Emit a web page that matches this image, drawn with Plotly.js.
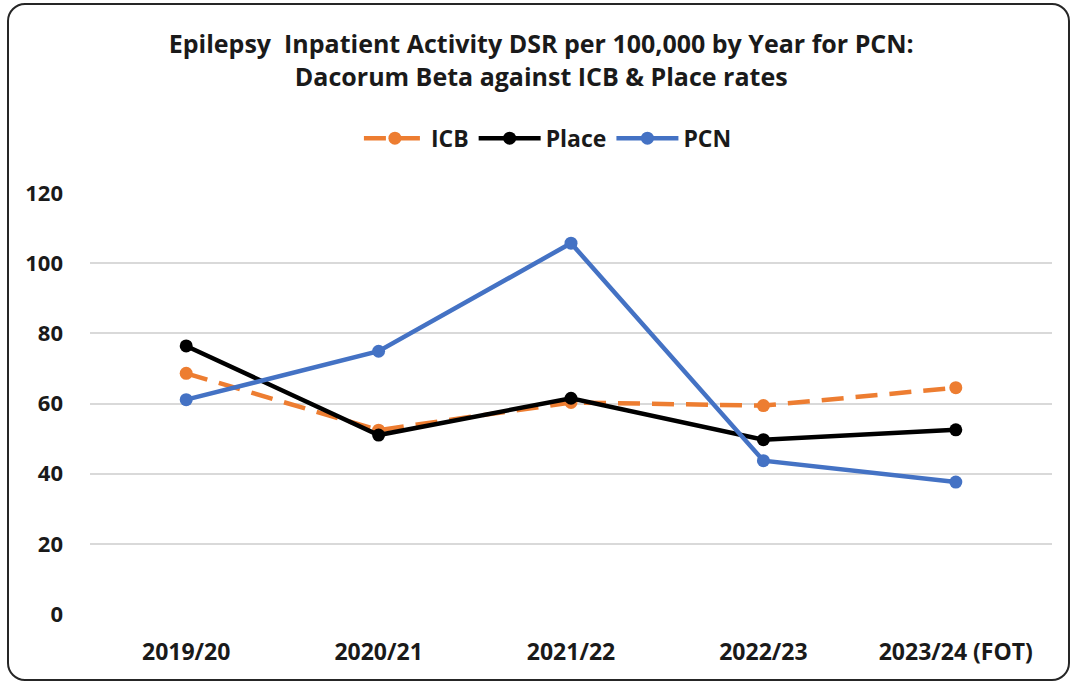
<!DOCTYPE html>
<html><head><meta charset="utf-8">
<script src="https://cdn.plot.ly/plotly-3.0.1.min.js"></script>
<style>
html,body{margin:0;padding:0;background:#fff;}
#wrap{position:relative;width:1076px;height:684px;}
#chart{width:1076px;height:684px;}
#frame{position:absolute;left:7px;top:3px;width:1059px;height:674px;border:2px solid #262626;border-radius:18px;pointer-events:none;}
</style></head>
<body>
<div id="wrap"><div id="chart"></div><div id="frame"></div></div>
<script>
const years = ["2019/20", "2020/21", "2021/22", "2022/23", "2023/24 (FOT)"];
const icb = [68.6, 52.4, 60.3, 59.4, 64.5];
const place = [76.4, 51.0, 61.5, 49.7, 52.5];
const pcn = [61.1, 74.9, 105.7, 43.7, 37.6];
const yTicks = [0, 20, 40, 60, 80, 100, 120];

const F = "'Open Sans', Lato, sans-serif";
const traces = [
  {x: years, y: icb, name: "ICB", type: "scatter", mode: "lines+markers",
   line: {color: "#ED7D31", width: 4.5, dash: "22px,12px"}, marker: {color: "#ED7D31", size: 13}},
  {x: years, y: place, name: "Place", type: "scatter", mode: "lines+markers",
   line: {color: "#000000", width: 4.5}, marker: {color: "#000000", size: 13}},
  {x: years, y: pcn, name: "PCN", type: "scatter", mode: "lines+markers",
   line: {color: "#4472C4", width: 4.5}, marker: {color: "#4472C4", size: 13}}
];
const layout = {
  width: 1076, height: 684,
  margin: {l: 90, r: 24, t: 193, b: 70},
  paper_bgcolor: "#fff", plot_bgcolor: "#fff",
  font: {family: F, color: "#262626"},
  title: {text: "<b>Epilepsy  Inpatient Activity DSR per 100,000 by Year for PCN:<br>Dacorum Beta against ICB & Place rates</b>",
    font: {family: F, size: 25, color: "#1a1a1a"}, x: 0.503, xanchor: "center", y: 0.922, yanchor: "middle"},
  showlegend: true,
  legend: {orientation: "h", x: 0.476, xanchor: "center", y: 1.13, yanchor: "middle",
    font: {family: F, size: 23, color: "#1a1a1a", weight: "bold"}, itemwidth: 62},
  xaxis: {type: "category", range: [-0.5, 4.5], showgrid: false, zeroline: false, showline: false, ticks: "",
    tickfont: {family: F, size: 23, color: "#1a1a1a", weight: "bold"}, ticklabelstandoff: 22},
  yaxis: {range: [0, 120], tickvals: yTicks, ticktext: yTicks.map(String), showgrid: true,
    gridcolor: "#d9d9d9", gridwidth: 1.5, zeroline: false, showline: false, ticks: "",
    tickfont: {family: F, size: 22, color: "#1a1a1a", weight: "bold"}, ticklabelstandoff: 26}
};
Plotly.newPlot("chart", traces, layout, {displayModeBar: false});
</script>
</body></html>
